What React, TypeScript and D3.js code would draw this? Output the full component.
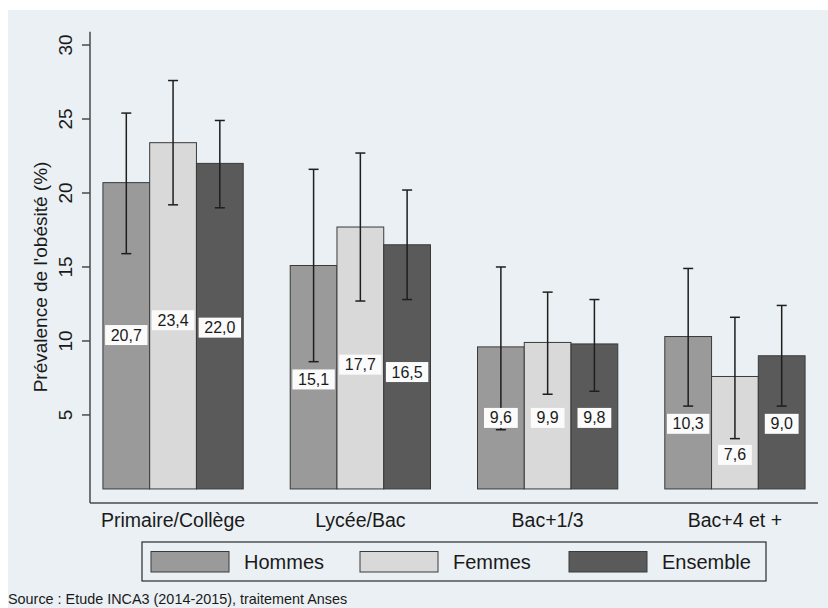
import React from 'react';
import * as d3 from 'd3';

const categories = ['Primaire/Collège', 'Lycée/Bac', 'Bac+1/3', 'Bac+4 et +'];
const seriesNames = ['Hommes', 'Femmes', 'Ensemble'];

const hommes = [20.7, 15.1, 9.6, 10.3];
const femmes = [23.4, 17.7, 9.9, 7.6];
const ensemble = [22.0, 16.5, 9.8, 9.0];

// intervalles de confiance (bas / haut)
const hommesLow = [15.9, 8.6, 4.0, 5.6];
const hommesHigh = [25.4, 21.6, 15.0, 14.9];
const femmesLow = [19.2, 12.7, 6.4, 3.4];
const femmesHigh = [27.6, 22.7, 13.3, 11.6];
const ensembleLow = [19.0, 12.8, 6.6, 5.6];
const ensembleHigh = [24.9, 20.2, 12.8, 12.4];

// where the value labels sit, in % units
const hommesLabelAt = [10.4, 7.4, 4.8, 4.4];
const femmesLabelAt = [11.4, 8.4, 4.8, 2.3];
const ensembleLabelAt = [10.9, 7.9, 4.8, 4.4];

const yTicks = [5, 10, 15, 20, 25, 30];

const colors = ['#9a9a9a', '#d9d9d9', '#5a5a5a'];

const values = [hommes, femmes, ensemble];
const lows = [hommesLow, femmesLow, ensembleLow];
const highs = [hommesHigh, femmesHigh, ensembleHigh];
const labelAt = [hommesLabelAt, femmesLabelAt, ensembleLabelAt];

const W = 828;
const H = 608;
const font = 'Liberation Sans, Arial, sans-serif';

const fmt = (v: number) => d3.format('.1f')(v).replace('.', ',');

const App: React.FC = () => {
  const plot = { left: 90, right: 818, top: 31.7, bottom: 503 };

  const x0 = d3
    .scaleBand<string>()
    .domain(categories)
    .range([plot.left, plot.right])
    .paddingInner(0.251)
    .paddingOuter(0.069);

  const x1 = d3
    .scaleBand<string>()
    .domain(seriesNames)
    .range([0, x0.bandwidth()])
    .padding(0);

  const y = d3.scaleLinear().domain([-0.95, 30.9]).range([plot.bottom, plot.top]);

  const midX = (plot.left + plot.right) / 2;
  const legendW = 624;
  const legendLeft = midX - legendW / 2;
  const legendTop = 542;
  const itemPitch = 209;

  return (
    <svg
      width={W}
      height={H}
      style={{ position: 'absolute', left: 0, top: 0, fontFamily: font }}
    >
      <rect x={0} y={0} width={W} height={H} fill="#ffffff" />
      <rect x={8} y={10} width={W - 8} height={H - 10} fill="#eaf0f3" />

      {/* bars */}
      {categories.map((cat, ci) => (
        <g key={cat} transform={`translate(${x0(cat)},0)`}>
          {seriesNames.map((s, si) => {
            const v = values[si][ci];
            return (
              <rect
                key={s}
                x={x1(s)}
                y={y(v)}
                width={x1.bandwidth()}
                height={y(0) - y(v)}
                fill={colors[si]}
                stroke="#3a3a3a"
                strokeWidth={1}
              />
            );
          })}
          {/* error bars */}
          {seriesNames.map((s, si) => {
            const cx = (x1(s) as number) + x1.bandwidth() / 2;
            const lo = y(lows[si][ci]);
            const hi = y(highs[si][ci]);
            return (
              <g key={s + '-err'} stroke="#1e1e1e" strokeWidth={1.5}>
                <line x1={cx} x2={cx} y1={lo} y2={hi} />
                <line x1={cx - 5} x2={cx + 5} y1={hi} y2={hi} />
                <line x1={cx - 5} x2={cx + 5} y1={lo} y2={lo} />
              </g>
            );
          })}
          {/* value labels */}
          {seriesNames.map((s, si) => {
            const cx = (x1(s) as number) + x1.bandwidth() / 2;
            const cy = y(labelAt[si][ci]);
            const txt = fmt(values[si][ci]);
            const bw = txt.length * 8.6 + 8;
            return (
              <g key={s + '-lab'}>
                <rect x={cx - bw / 2} y={cy - 10} width={bw} height={20} fill="#fbfbfb" />
                <text
                  x={cx}
                  y={cy + 5.5}
                  textAnchor="middle"
                  fontSize={16}
                  fill="#1a1a1a"
                >
                  {txt}
                </text>
              </g>
            );
          })}
        </g>
      ))}

      {/* axes */}
      <line x1={plot.left} x2={plot.left} y1={plot.top} y2={plot.bottom} stroke="#4a4a4a" strokeWidth={1.5} />
      <line x1={plot.left} x2={plot.right} y1={plot.bottom} y2={plot.bottom} stroke="#4a4a4a" strokeWidth={1.5} />
      {yTicks.map((t) => (
        <g key={t}>
          <line x1={plot.left - 8} x2={plot.left} y1={y(t)} y2={y(t)} stroke="#4a4a4a" strokeWidth={1.5} />
          <text
            transform={`translate(72,${y(t)}) rotate(-90)`}
            textAnchor="middle"
            fontSize={19}
            fill="#1a1a1a"
          >
            {t}
          </text>
        </g>
      ))}
      <text
        transform={`translate(47,277) rotate(-90)`}
        textAnchor="middle"
        fontSize={19}
        fill="#1a1a1a"
      >
        Prévalence de l'obésité (%)
      </text>
      {categories.map((cat) => (
        <text
          key={cat}
          x={(x0(cat) as number) + x0.bandwidth() / 2}
          y={527}
          textAnchor="middle"
          fontSize={19.5}
          fill="#1a1a1a"
        >
          {cat}
        </text>
      ))}

      {/* legend */}
      <rect
        x={legendLeft}
        y={legendTop}
        width={legendW}
        height={39}
        fill="none"
        stroke="#2a2a2a"
        strokeWidth={1.2}
      />
      {seriesNames.map((s, si) => {
        const ix = legendLeft + 9 + si * itemPitch;
        return (
          <g key={s}>
            <rect
              x={ix}
              y={legendTop + 9.5}
              width={78}
              height={20.5}
              fill={colors[si]}
              stroke="#3a3a3a"
              strokeWidth={1}
            />
            <text x={ix + 93} y={legendTop + 27} fontSize={20} fill="#1a1a1a">
              {s}
            </text>
          </g>
        );
      })}

      <text x={8} y={604} fontSize={14.4} fill="#1a1a1a">
        Source : Etude INCA3 (2014-2015), traitement Anses
      </text>
    </svg>
  );
};

export default App;
